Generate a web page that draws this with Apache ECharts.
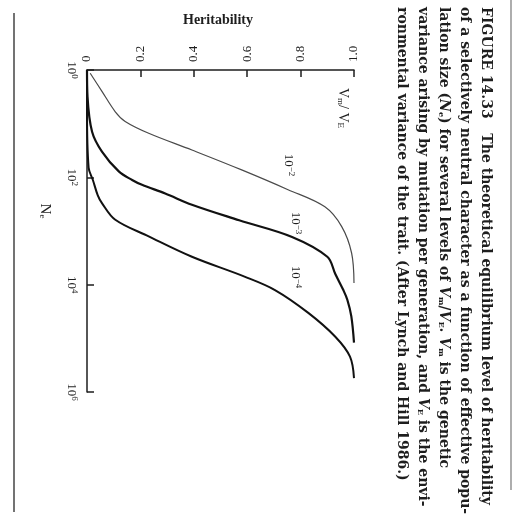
<!DOCTYPE html>
<html>
<head>
<meta charset="utf-8">
<style>
  html, body { margin: 0; padding: 0; background: #fff; }
  #chart { width: 515px; height: 521px; }
</style>
<script src="https://cdn.jsdelivr.net/npm/echarts@6/dist/echarts.min.js"></script>
</head>
<body>
<div id="chart"></div>
<script>
// values: Ne (log scale) vs equilibrium heritability
const ne_1e2 = [1.15, 2.5, 6.0, 9.1, 15.1, 31, 72, 170, 355, 830, 2570, 9300]
const h_1e2 = [0.012, 0.056, 0.106, 0.143, 0.231, 0.393, 0.577, 0.753, 0.891, 0.954, 0.991, 1.0]

const ne_1e3 = [1, 3.16, 14.1, 33.1, 77.6, 112, 138, 200, 324, 631, 1290, 3020, 6310, 12600, 19100, 38900, 120000]
const h_1e3 = [0, 0.002, 0.019, 0.056, 0.119, 0.169, 0.206, 0.293, 0.393, 0.57, 0.768, 0.9, 0.93, 0.96, 0.975, 0.99, 1.0]

const ne_1e4 = [1, 5.5, 66, 112, 214, 302, 617, 1260, 3020, 7080, 12600, 33900, 93300, 219000, 550000]
const h_1e4 = [0, 0, 0.006, 0.022, 0.04, 0.056, 0.106, 0.231, 0.393, 0.59, 0.704, 0.83, 0.93, 0.985, 1.0]

const hTicks = ['0', '0.2', '0.4', '0.6', '0.8', '1.0']
const neTickExp = [0, 2, 4, 6]

const captionLines = [
  'FIGURE 14.33   The theoretical equilibrium level of heritability',
  'of a selectively neutral character as a function of effective popu-',
  'lation size ({i|N}{sub|e}) for several levels of {i|V}{sub|m}/{i|V}{sub|E}. {i|V}{sub|m} is the genetic',
  'variance arising by mutation per generation, and {i|V}{sub|E} is the envi-',
  'ronmental variance of the trait. (After Lynch and Hill 1986.)'
]

const serif = '"Liberation Serif", "DejaVu Serif", serif'
const capFont = '"DejaVu Serif", serif'
const ink = '#1e1e1e'

const pairs = (ne, h) => ne.map((n, i) => [h[i], n])

const chart = echarts.init(document.getElementById('chart'))

const richText = {
  i: { fontStyle: 'italic', fontWeight: 'bold', fontSize: 14, fontFamily: capFont, fill: ink, color: ink },
  sub: { fontSize: 8, fontWeight: 'bold', fontFamily: capFont, verticalAlign: 'bottom', fill: ink, color: ink, padding: [6, 0, 0, 0] }
}

const rotText = (x, y, text, opts = {}) => ({
  type: 'text',
  x: x,
  y: y,
  rotation: -Math.PI / 2,
  style: Object.assign({
    text: text,
    fontFamily: serif,
    fontSize: 13,
    fill: ink,
    align: 'center',
    verticalAlign: 'middle'
  }, opts)
})

const supRich = {
  b: { fontFamily: serif, fontSize: 13, fill: ink },
  s: { fontFamily: serif, fontSize: 9, fill: ink, verticalAlign: 'top', padding: [0, 0, 6, 0] }
}

const graphics = [
  { type: 'line', shape: { x1: 14, y1: 13, x2: 14, y2: 512 }, style: { stroke: '#444', lineWidth: 1.5 } },
  { type: 'line', shape: { x1: 511, y1: 0, x2: 511, y2: 490 }, style: { stroke: '#777', lineWidth: 1.2 } },
  {
    type: 'text', x: 218, y: 20,
    style: { text: 'Heritability', fontFamily: serif, fontSize: 14, fontWeight: 'bold', fill: ink, align: 'center', verticalAlign: 'middle' }
  },
  rotText(45, 211, '{n|N}{s|e}', {
    rich: {
      n: { fontFamily: serif, fontSize: 15, fill: ink },
      s: { fontFamily: serif, fontSize: 9, fill: ink, verticalAlign: 'bottom', padding: [6, 0, 0, 0] }
    }
  }),
  rotText(343, 108, '{v|V}{s|m}{v|/ V}{s|E}', {
    rich: {
      v: { fontFamily: serif, fontSize: 14, fill: ink },
      s: { fontFamily: serif, fontSize: 9, fill: ink, verticalAlign: 'bottom', padding: [6, 0, 0, 0] }
    }
  }),
  rotText(288, 165, '{b|10}{s|−2}', { rich: supRich }),
  rotText(295, 223, '{b|10}{s|−3}', { rich: supRich }),
  rotText(295, 277, '{b|10}{s|−4}', { rich: supRich })
]

// caption columns, read top to bottom
const captionX = [486, 465, 444, 423, 402]
captionLines.forEach((line, i) => {
  graphics.push(rotText(captionX[i], 7, line, {
    fontFamily: capFont,
    fontSize: 14,
    fontWeight: 'bold',
    align: 'left',
    rich: richText
  }))
})

const option = {
  backgroundColor: '#fff',
  animation: false,
  grid: { left: 87, top: 70, right: 161, bottom: 129 },
  xAxis: {
    type: 'value',
    position: 'top',
    min: 0,
    max: 1,
    interval: 0.2,
    axisLine: { show: true, lineStyle: { color: ink, width: 1.5 } },
    axisTick: { show: true, inside: true, length: 7, lineStyle: { color: ink, width: 1.5 } },
    splitLine: { show: false },
    axisLabel: {
      rotate: -90,
      margin: 8,
      fontFamily: serif,
      fontSize: 13,
      color: ink,
      formatter: (v) => hTicks[Math.round(v * 5)]
    }
  },
  yAxis: {
    type: 'log',
    logBase: 10,
    min: 1,
    max: 1e6,
    interval: 2,
    inverse: true,
    axisLine: { show: true, lineStyle: { color: ink, width: 1.5 } },
    axisTick: { show: true, inside: true, length: 7, lineStyle: { color: ink, width: 1.5 } },
    minorTick: { show: false },
    splitLine: { show: false },
    axisLabel: {
      rotate: -90,
      margin: 8,
      color: ink,
      formatter: (v) => {
        const e = Math.round(Math.log10(v))
        if (neTickExp.indexOf(e) < 0) return ''
        return '{b|10}{s|' + e + '}'
      },
      rich: {
        b: { fontFamily: serif, fontSize: 13, color: ink },
        s: { fontFamily: serif, fontSize: 9, color: ink, verticalAlign: 'top', padding: [0, 0, 6, 0] }
      }
    }
  },
  series: [
    {
      name: '10^-2',
      type: 'line',
      data: pairs(ne_1e2, h_1e2),
      smooth: 0.35,
      showSymbol: false,
      lineStyle: { color: '#4a4a4a', width: 1.2 }
    },
    {
      name: '10^-3',
      type: 'line',
      data: pairs(ne_1e3, h_1e3),
      smooth: 0.35,
      showSymbol: false,
      lineStyle: { color: '#111', width: 2.2 }
    },
    {
      name: '10^-4',
      type: 'line',
      data: pairs(ne_1e4, h_1e4),
      smooth: 0.35,
      showSymbol: false,
      lineStyle: { color: '#111', width: 2 }
    }
  ],
  graphic: graphics
}

chart.setOption(option)
</script>
</body>
</html>
